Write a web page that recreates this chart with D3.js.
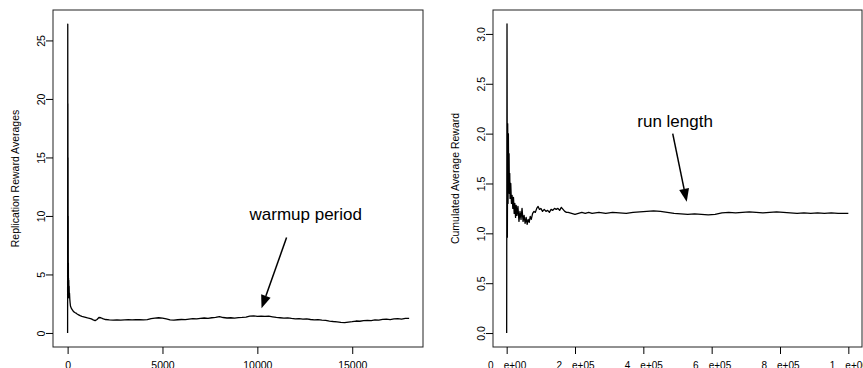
<!DOCTYPE html>
<html>
<head>
<meta charset="utf-8">
<script src="https://cdn.jsdelivr.net/npm/d3@7/dist/d3.min.js"></script>
<style>
  html, body { margin: 0; padding: 0; background: #fff; }
  svg { display: block; }
  text { font-family: "Liberation Sans", Arial, Helvetica, sans-serif; fill: #000; }
</style>
</head>
<body>
<svg id="chart" width="863" height="368"></svg>
<script>
// Replication reward averages over simulated time (left panel)
const leftSteps = [0, 8, 12, 16, 20, 24, 28, 32, 36, 40, 44, 48, 55, 62, 70, 80, 90, 100, 115, 130,
  150, 175, 200, 240, 280, 330, 380, 440, 500, 580, 660, 750, 850, 950, 1050, 1150, 1250, 1350,
  1450, 1550, 1650, 1750, 1850, 2000, 2200, 2400, 2600, 2800, 3000, 3200, 3400, 3600, 3800, 4000,
  4200, 4400, 4600, 4800, 5000, 5200, 5400, 5600, 5800, 6000, 6200, 6400, 6600, 6800, 7000, 7200,
  7400, 7600, 7800, 8000, 8200, 8400, 8600, 8800, 9000, 9200, 9400, 9600, 9800, 10000, 10200,
  10400, 10600, 10800, 11000, 11200, 11400, 11600, 11800, 12000, 12200, 12400, 12600, 12800,
  13000, 13200, 13400, 13600, 13800, 14000, 14200, 14400, 14600, 14800, 15000, 15200, 15400,
  15600, 15800, 16000, 16200, 16400, 16600, 16800, 17000, 17200, 17400, 17600, 17800, 18000];
const leftValues = [0, 26.4, 8.0, 19.6, 5.0, 15.0, 3.2, 10.0, 3.0, 6.0, 3.5, 4.7, 3.1, 4.5, 3.2, 4.0,
  3.0, 3.4, 2.9, 2.6, 2.3, 2.2, 2.1, 2.0, 1.9, 1.8, 1.75, 1.7, 1.62, 1.55, 1.48, 1.42, 1.38, 1.33,
  1.28, 1.25, 1.20, 1.12, 1.05, 1.15, 1.32, 1.30, 1.22, 1.15, 1.12, 1.10, 1.11, 1.10, 1.12, 1.13,
  1.12, 1.14, 1.13, 1.12, 1.14, 1.22, 1.26, 1.30, 1.27, 1.20, 1.12, 1.10, 1.13, 1.15, 1.14, 1.18,
  1.22, 1.20, 1.25, 1.28, 1.24, 1.30, 1.33, 1.40, 1.32, 1.28, 1.30, 1.27, 1.31, 1.33, 1.36, 1.44,
  1.46, 1.42, 1.44, 1.41, 1.43, 1.38, 1.33, 1.30, 1.27, 1.29, 1.24, 1.20, 1.22, 1.18, 1.21, 1.15,
  1.12, 1.14, 1.10, 1.08, 1.02, 0.98, 0.95, 0.90, 0.88, 0.93, 0.96, 1.02, 1.00, 1.05, 1.08, 1.06,
  1.12, 1.10, 1.16, 1.18, 1.14, 1.20, 1.22, 1.19, 1.24, 1.25];
const leftXTicks = [0, 5000, 10000, 15000];
const leftYTicks = [0, 5, 10, 15, 20, 25];

// Cumulated average reward over one long run (right panel)
const rightSteps = [0, 1000, 2000, 3000, 4000, 5000, 6000, 7000, 8000, 9000, 10000, 12000, 14000,
  16000, 18000, 20000, 22000, 24000, 26000, 28000, 30000, 33000, 36000, 39000, 42000, 45000, 48000,
  51000, 54000, 57000, 60000, 63000, 66000, 69000, 72000, 76000, 80000, 84000, 88000, 92000, 96000,
  100000, 105000, 110000, 115000, 120000, 125000, 130000, 135000, 140000, 145000, 150000, 155000,
  160000, 165000, 170000, 175000, 180000, 190000, 200000, 210000, 220000, 230000, 240000, 250000,
  270000, 290000, 310000, 330000, 350000, 370000, 390000, 410000, 430000, 450000, 470000, 490000,
  510000, 530000, 550000, 570000, 590000, 610000, 630000, 650000, 670000, 690000, 710000, 730000,
  750000, 770000, 790000, 810000, 830000, 850000, 870000, 890000, 910000, 930000, 950000, 970000,
  990000, 1000000];
const rightValues = [0, 3.1, 0.96, 2.1, 1.3, 2.0, 1.5, 1.8, 1.4, 1.6, 1.35, 1.5, 1.3, 1.38, 1.25,
  1.36, 1.2, 1.3, 1.16, 1.28, 1.18, 1.27, 1.12, 1.22, 1.14, 1.25, 1.12, 1.18, 1.10, 1.16, 1.09, 1.14,
  1.11, 1.17, 1.14, 1.20, 1.22, 1.21, 1.25, 1.27, 1.24, 1.25, 1.22, 1.24, 1.22, 1.23, 1.21, 1.24,
  1.23, 1.25, 1.24, 1.25, 1.23, 1.26, 1.24, 1.22, 1.21, 1.21, 1.20, 1.19, 1.20, 1.21, 1.20, 1.21,
  1.20, 1.21, 1.20, 1.21, 1.205, 1.20, 1.21, 1.215, 1.22, 1.225, 1.22, 1.21, 1.20, 1.195, 1.19,
  1.195, 1.19, 1.185, 1.19, 1.205, 1.21, 1.205, 1.21, 1.215, 1.21, 1.205, 1.21, 1.215, 1.21, 1.205,
  1.20, 1.205, 1.20, 1.205, 1.20, 1.205, 1.20, 1.20, 1.20];
const rightXTicks = [0, 200000, 400000, 600000, 800000, 1000000];
const rightXTickLabels = ["0e+00", "2e+05", "4e+05", "6e+05", "8e+05", "1e+06"];
const rightYTicks = [0, 0.5, 1.0, 1.5, 2.0, 2.5, 3.0];
const rightYTickLabels = ["0.0", "0.5", "1.0", "1.5", "2.0", "2.5", "3.0"];

const svg = d3.select("#chart");

function panel(opts) {
  const { x, y, steps, values, xTicks, xLabels, xLabelSize, sciGap, yTicks, yLabels, yTitle, note } = opts;
  const g = svg.append("g");
  const [x0, x1] = x.range();
  const [y0, y1] = y.range();

  // series
  const line = d3.line().x((d, i) => x(steps[i])).y(d => y(d));
  g.append("path")
    .datum(values)
    .attr("d", line)
    .attr("fill", "none")
    .attr("stroke", "#000")
    .attr("stroke-width", 1.3)
    .attr("stroke-linejoin", "round");

  // frame
  g.append("rect")
    .attr("x", x0).attr("y", y1)
    .attr("width", x1 - x0).attr("height", y0 - y1)
    .attr("fill", "none").attr("stroke", "#222").attr("stroke-width", 1);

  // bottom axis
  const xa = g.append("g").attr("transform", `translate(0,${y0})`)
    .call(d3.axisBottom(x).tickValues(xTicks).tickSize(7).tickPadding(9).tickFormat(""));
  xa.select(".domain").remove();
  xa.selectAll("line").attr("stroke", "#000");
  xa.selectAll(".tick text").remove();
  const xt = xa.selectAll(".tick").append("text")
    .attr("y", 22)
    .attr("text-anchor", "middle")
    .attr("font-size", xLabelSize)
    .attr("fill", "#000");
  xt.each(function (d, i) {
    const t = d3.select(this);
    const label = xLabels[i];
    const k = label.indexOf("e");
    if (k < 0) {
      t.text(label);
    } else {
      // mantissa and exponent set apart, as in the plotted scientific labels
      t.append("tspan").text(label.slice(0, k));
      t.append("tspan").attr("dx", sciGap).text(label.slice(k));
    }
  });

  // left axis with labels parallel to the axis
  const ya = g.append("g").attr("transform", `translate(${x0},0)`)
    .call(d3.axisLeft(y).tickValues(yTicks).tickSize(7).tickFormat(""));
  ya.select(".domain").remove();
  ya.selectAll("line").attr("stroke", "#000");
  ya.selectAll(".tick").append("text")
    .attr("transform", "translate(-8,0) rotate(-90)")
    .attr("text-anchor", "middle")
    .attr("font-size", "10.5px")
    .attr("fill", "#000")
    .text((d, i) => yLabels[i]);

  // axis title
  g.append("text")
    .attr("transform", `translate(${x0 - 34},${(y0 + y1) / 2}) rotate(-90)`)
    .attr("text-anchor", "middle")
    .attr("font-size", "10.5px")
    .text(yTitle);

  // annotation with filled arrowhead
  const sx = x(note.from[0]), sy = y(note.from[1]);
  const tx = x(note.to[0]), ty = y(note.to[1]);
  const len = Math.hypot(tx - sx, ty - sy);
  const ux = (tx - sx) / len, uy = (ty - sy) / len;
  const headLen = 13, headHalf = 5;
  const bx = tx - ux * headLen, by = ty - uy * headLen;
  g.append("line")
    .attr("x1", sx).attr("y1", sy).attr("x2", bx).attr("y2", by)
    .attr("stroke", "#000").attr("stroke-width", 1.5);
  g.append("path")
    .attr("d", `M${tx},${ty}L${bx - uy * headHalf},${by + ux * headHalf}L${bx + uy * headHalf},${by - ux * headHalf}Z`)
    .attr("fill", "#000");
  g.append("text")
    .attr("x", x(note.text[0])).attr("y", y(note.text[1]))
    .attr("text-anchor", "middle")
    .attr("font-size", "17px")
    .text(note.label);
}

panel({
  x: d3.scaleLinear().domain([-770, 18730]).range([53, 423]),
  y: d3.scaleLinear().domain([-1.2, 27.6]).range([347, 10]),
  steps: leftSteps, values: leftValues,
  xTicks: leftXTicks, xLabels: leftXTicks.map(String), xLabelSize: "10.5px", sciGap: 0,
  yTicks: leftYTicks, yLabels: leftYTicks.map(String),
  yTitle: "Replication Reward Averages",
  note: { label: "warmup period", text: [12550, 9.66], from: [11540, 8.15], to: [10220, 2.11] }
});

panel({
  x: d3.scaleLinear().domain([-40000, 1040000]).range([493, 862]),
  y: d3.scaleLinear().domain([-0.14, 3.24]).range([347, 10]),
  steps: rightSteps, values: rightValues,
  xTicks: rightXTicks, xLabels: rightXTickLabels, xLabelSize: "10px", sciGap: 10,
  yTicks: rightYTicks, yLabels: rightYTickLabels,
  yTitle: "Cumulated Average Reward",
  note: { label: "run length", text: [493000, 2.065], from: [486000, 2.0], to: [527000, 1.316] }
});
</script>
</body>
</html>
